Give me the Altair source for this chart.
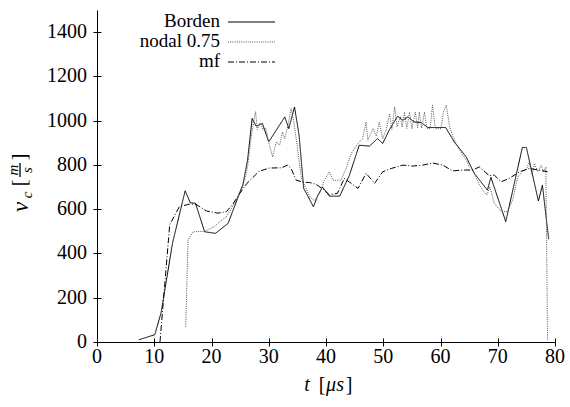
import altair as alt
import pandas as pd

# Contact velocity histories v_c(t) for three contact algorithms
borden_t = [7.3, 10.1, 11.2, 13.2, 15.4, 16.3, 17.2, 18.8, 20.7, 22.9, 25.5, 26.3, 27.1, 27.8,
            28.9, 30.0, 32.8, 33.5, 34.5, 35.3, 36.1, 36.9, 37.8, 38.6, 39.4, 40.6, 42.4, 44.1,
            45.8, 47.6, 49.0, 49.9, 51.1, 52.5, 53.4, 54.3, 55.4, 56.6, 57.8, 60.9, 62.4, 64.5,
            65.9, 68.2, 68.8, 71.4, 74.3, 75.0, 77.1, 77.8, 78.9]
borden_v = [10, 33, 133, 448, 683, 629, 627, 498, 491, 536, 713, 822, 1010, 975,
            987, 904, 1017, 964, 1062, 934, 694, 656, 611, 664, 700, 659, 659, 754,
            889, 885, 919, 897, 960, 1020, 1002, 1017, 994, 992, 969, 969, 904, 836,
            762, 686, 744, 544, 879, 879, 637, 709, 464]

nodal_t = [15.5, 15.9, 16.8, 18.8, 20.5, 21.5, 22.6, 23.3, 24.3, 25.5, 26.3, 26.9, 27.4, 27.7,
           28.0, 28.5, 29.0, 29.5, 30.0, 30.7, 31.3, 31.9, 32.4, 32.8, 33.3, 33.9, 34.4, 35.0,
           35.7, 36.4, 37.2, 38.0, 38.9, 39.7, 40.6, 41.2, 42.6, 43.5, 44.4, 45.6, 46.4, 47.0,
           47.3, 48.2, 48.8, 49.3, 49.9, 50.5, 51.1, 51.5, 52.0, 52.4, 53.0, 53.3, 53.7, 54.1,
           54.6, 55.0, 55.6, 56.0, 56.3, 56.7, 57.2, 57.6, 58.2, 58.6, 59.1, 60.1, 60.5, 61.0,
           61.6, 62.1, 63.0, 63.9, 64.5, 65.0, 65.6, 66.2, 66.8, 67.4, 68.1, 68.6, 69.4, 70.6,
           71.7, 72.6, 73.5, 74.6, 75.0, 75.5, 76.0, 76.4, 77.0, 77.6, 78.0, 78.4, 78.7]
nodal_v = [70, 461, 498, 500, 521, 545, 566, 595, 641, 705, 790, 920, 1000, 1040,
           960, 990, 960, 965, 900, 836, 904, 889, 949, 919, 972, 1055, 990, 880,
           739, 700, 655, 640, 671, 731, 769, 731, 731, 784, 852, 897, 920, 994,
           912, 964, 930, 994, 919, 957, 1032, 960, 1062, 972, 1020, 970, 1039, 965,
           1039, 964, 1039, 968, 1039, 966, 1039, 966, 964, 1070, 964, 964, 1039, 1070,
           972, 934, 882, 844, 822, 792, 777, 746, 709, 686, 664, 701, 627, 589,
           589, 641, 746, 777, 780, 814, 754, 807, 769, 799, 769, 791, 10]

mf_t = [11.0, 12.7, 14.4, 16.2, 17.3, 19.1, 21.1, 22.6, 23.7, 24.9, 26.2, 28.3, 30.1, 32.2,
        33.3, 33.9, 34.8, 36.2, 37.1, 38.3, 39.5, 40.6, 42.0, 43.2, 44.4, 45.6, 47.0, 48.5,
        49.9, 51.4, 53.4, 55.1, 56.9, 58.6, 60.4, 62.1, 63.9, 65.6, 66.8, 68.5, 69.4, 70.6,
        72.0, 73.8, 75.5, 77.2, 78.7]
mf_v = [0, 530, 612, 623, 622, 592, 582, 589, 622, 670, 717, 771, 786, 787,
        799, 784, 731, 721, 721, 712, 690, 665, 672, 739, 717, 694, 762, 717,
        769, 784, 799, 795, 799, 809, 799, 773, 777, 777, 791, 752, 754, 724,
        739, 769, 784, 777, 769]

series_names = ["Borden", "nodal 0.75", "mf"]
series_colors = ["#000000", "#555555", "#000000"]
series_dashes = [[1, 0], [1, 1.2], [6, 2, 1, 2]]
x_ticks = list(range(0, 81, 10))
y_ticks = list(range(0, 1401, 200))

rows = []
for name, ts, vs in zip(series_names, [borden_t, nodal_t, mf_t], [borden_v, nodal_v, mf_v]):
    for i, (t, v) in enumerate(zip(ts, vs)):
        rows.append({"series": name, "t": t, "v": v, "order": i})
df = pd.DataFrame(rows)

FONT = "Liberation Serif"
W, H = 458, 332
x_scale = alt.Scale(domain=[0, 80], nice=False, zero=False)
y_scale = alt.Scale(domain=[0, 1500], nice=False)

axis_style = dict(grid=False, title=None, labels=False, domainColor="black", domainWidth=1,
                  tickColor="black", tickWidth=1, tickSize=4)

lines = alt.Chart(df).mark_line(strokeWidth=1).encode(
    x=alt.X("t:Q", scale=x_scale, axis=alt.Axis(orient="bottom", values=x_ticks, **axis_style)),
    y=alt.Y("v:Q", scale=y_scale, axis=alt.Axis(orient="left", values=y_ticks, **axis_style)),
    color=alt.Color("series:N", scale=alt.Scale(domain=series_names, range=series_colors),
                    legend=None),
    strokeDash=alt.StrokeDash("series:N", scale=alt.Scale(domain=series_names, range=series_dashes),
                              legend=None),
    order="order:Q",
)

# second pair of axes shifted inward so that the ticks cross the axis lines
inner_axis = dict(labels=False, domain=False, grid=False, title=None, tickSize=4,
                  tickColor="black", tickWidth=1, offset={"expr": "-4"})
inner = alt.Chart(df).mark_point(opacity=0).encode(
    x=alt.X("t:Q", scale=x_scale, axis=alt.Axis(orient="bottom", values=x_ticks, **inner_axis)),
    y=alt.Y("v:Q", scale=y_scale, axis=alt.Axis(orient="left", values=y_ticks, **inner_axis)),
)

# tick labels placed through the shared scales
x_labels = alt.Chart(pd.DataFrame({"tick": x_ticks})).mark_text(
    font=FONT, fontSize=20, color="black", align="center", baseline="middle"
).encode(x=alt.X("tick:Q", scale=x_scale, axis=None), y=alt.value(H + 15), text="tick:Q")

y_labels = alt.Chart(pd.DataFrame({"tick": y_ticks})).mark_text(
    font=FONT, fontSize=20, color="black", align="right", baseline="middle"
).encode(x=alt.value(-10), y=alt.Y("tick:Q", scale=y_scale, axis=None), text="tick:Q")


def label(text, x, y, size=20, italic=False, angle=0, align="center"):
    kw = dict(font=FONT, fontSize=size, align=align, baseline="middle", color="black")
    if italic:
        kw["fontStyle"] = "italic"
    if angle:
        kw["angle"] = angle
    return alt.Chart(pd.DataFrame({"s": [text]})).mark_text(**kw).encode(
        x=alt.value(x), y=alt.value(y), text="s:N")


# axis titles: t [μs] and v_c [m/s]
titles = [
    label("t", 210, 375, italic=True),
    label("[", 225, 375),
    label("μs", 238, 375, italic=True),
    label("]", 252, 375),
    label("v", -76, 197, size=23, italic=True, angle=270),
    label("c", -70, 185, size=15, italic=True, angle=270),
    label("[", -77, 173, angle=270),
    label("m", -84, 160, size=15, italic=True, angle=270),
    label("s", -70, 160, size=15, italic=True, angle=270),
    label("]", -77, 147, angle=270),
]
frac_bar = alt.Chart(pd.DataFrame({"s": [0]})).mark_rule(color="black", strokeWidth=1.3).encode(
    x=alt.value(-77), y=alt.value(153), y2=alt.value(167))

# key in the upper left: name, then a sample of the line style
key_rows = [11, 31, 51]
key = []
for name, colr, dash, ky in zip(series_names, series_colors, series_dashes, key_rows):
    key.append(label(name, 123, ky, size=19, align="right"))
    key.append(alt.Chart(pd.DataFrame({"s": [name]})).mark_rule(
        color=colr, strokeWidth=1, strokeDash=dash
    ).encode(x=alt.value(131), x2=alt.value(178), y=alt.value(ky + 1)))

chart = alt.layer(lines, inner, x_labels, y_labels, *titles, frac_bar, *key).resolve_axis(
    x="independent", y="independent"
).properties(
    width=W, height=H,
    padding={"left": 97, "top": 10, "right": 15, "bottom": 65},
    autosize=alt.AutoSizeParams(type="none"),
).configure_view(stroke=None)

chart.save("out.html", embed_options={"renderer": "svg", "actions": False})
